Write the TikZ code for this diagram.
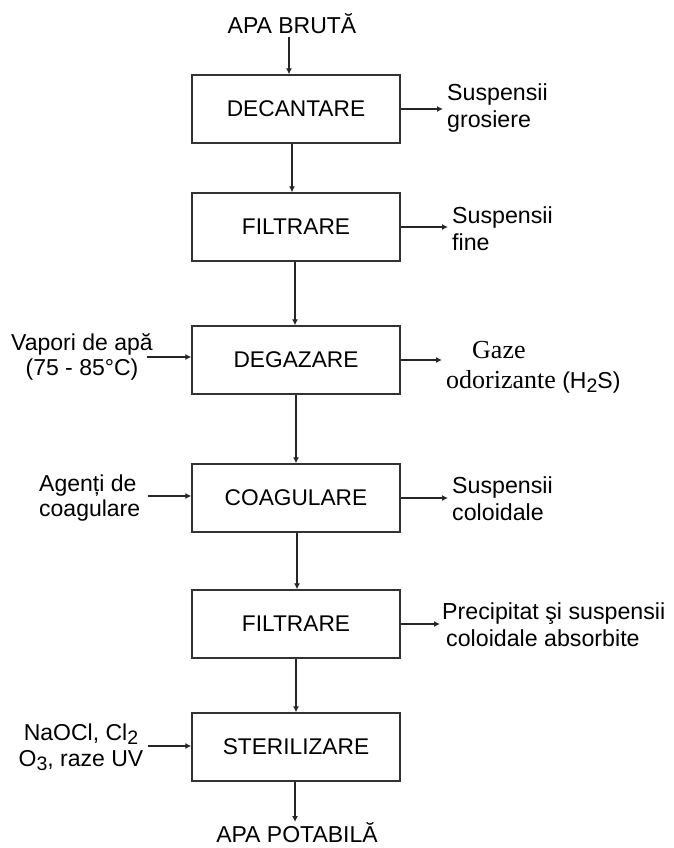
\documentclass[tikz,border=0pt]{standalone}
\usepackage{fontspec}
\setmainfont{Liberation Sans}
\newfontfamily\serifpart{Liberation Serif}
\usetikzlibrary{arrows.meta}
% lowered, slightly smaller index digit (chemical formulas)
\newcommand{\lowidx}[1]{\raisebox{-0.35ex}{\fontsize{19.5}{19.5}\selectfont #1}}

\begin{document}
\begin{tikzpicture}[x=1pt,y=-1pt,
  stage/.style={draw=black!80, line width=1.3pt, minimum width=208pt,
    minimum height=68pt, inner sep=0pt, font=\fontsize{22.7}{26}\selectfont},
  outlbl/.style={anchor=west, inner xsep=4pt, inner ysep=0pt, align=left,
    font=\fontsize{23.2}{27}\selectfont},
  inlbl/.style={inner sep=0pt, font=\fontsize{23}{25}\selectfont},
  endlbl/.style={inner sep=0pt, font=\fontsize{23}{26}\selectfont},
  flow/.style={draw=black!85, line width=1.2pt, -{Latex[length=6pt,width=6pt]}}]
\useasboundingbox (0,0) rectangle (673,848);

% treatment stages
\node[stage] (dec)  at (296,109) {DECANTARE};
\node[stage] (fil1) at (296,227) {FILTRARE};
\node[stage] (deg)  at (296,360) {DEGAZARE};
\node[stage] (coa)  at (296,498) {COAGULARE};
\node[stage] (fil2) at (296,624) {FILTRARE};
\node[stage] (ster) at (296,747) {STERILIZARE};

% raw water in, drinking water out
\node[endlbl, anchor=base] (brut) at (292,34) {APA BRUTĂ};
\node[endlbl, anchor=north] (pot) at (297,822) {APA POTABILĂ};

% main flow
\draw[flow] ([xshift=-3pt,yshift=-3pt]brut.south) -- ([xshift=-7pt]dec.north);
\draw[flow] ([xshift=-4pt]dec.south) -- ([xshift=-4pt]fil1.north);
\draw[flow] ([xshift=-1pt]fil1.south) -- ([xshift=-1pt]deg.north);
\draw[flow] (deg.south) -- (coa.north);
\draw[flow] ([xshift=1pt]coa.south) -- ([xshift=1pt]fil2.north);
\draw[flow] (fil2.south) -- (ster.north);
\draw[flow] ([xshift=-1pt]ster.south) -- ([xshift=-2pt]pot.north);

% separated products
\node[outlbl] (sgro) at (443,108.5) {Suspensii\\grosiere};
\node[outlbl] (sfin) at (448,228.5) {Suspensii\\fine};
\node[outlbl, font=\fontsize{23}{30}\selectfont] (gaz) at (442,367)
  {\hspace{26pt}{\serifpart\fontsize{26}{30}\selectfont Gaze}\\%
   {\serifpart\fontsize{26}{30}\selectfont odorizante} (H\lowidx{2}S)};
\node[outlbl] (scol) at (448,498.5) {Suspensii\\coloidale};
\node[outlbl, inner xsep=2pt] (prec) at (440,624.5)
  {Precipitat şi suspensii\\\hspace{4pt}coloidale absorbite};

\draw[flow] (dec.east)  -- (dec.east -| sgro.west);
\draw[flow] (fil1.east) -- (fil1.east -| sfin.west);
\draw[flow] (deg.east)  -- (deg.east -| gaz.west);
\draw[flow] (coa.east)  -- (coa.east -| scol.west);
\draw[flow] (fil2.east) -- (fil2.east -| prec.west);

% added reagents
\node[inlbl, align=center] (vap) at (82,357) {Vapori de apă\\(75 - 85°C)};
\node[inlbl, align=left, anchor=west] (agc) at (39,498.5) {Agenți de\\coagulare};
\node[inlbl, align=center, font=\fontsize{23}{26}\selectfont] (ster-in) at (81,747.5)
  {NaOCl, Cl\lowidx{2}\\O\lowidx{3}, raze UV};

\coordinate (vin) at (147,357);
\coordinate (ain) at (148,496);
\coordinate (sin) at (148,746);
\draw[flow] (vin) -- (vin -| deg.west);
\draw[flow] (ain) -- (ain -| coa.west);
\draw[flow] (sin) -- (sin -| ster.west);
\end{tikzpicture}
\end{document}
